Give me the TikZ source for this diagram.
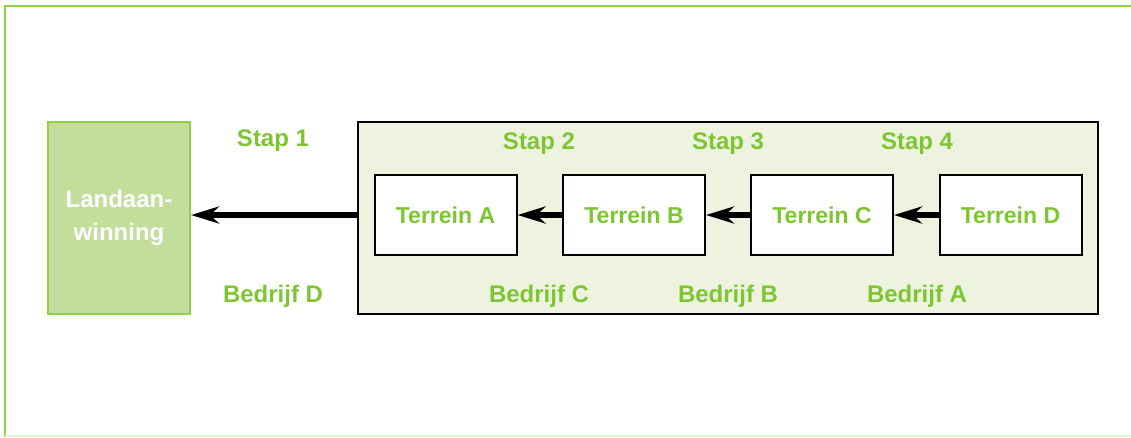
\documentclass[tikz,border=0pt]{standalone}
\usepackage{fontspec}
\setmainfont{Liberation Sans}
\usetikzlibrary{arrows.meta}
\definecolor{gtext}{HTML}{7DC632}
\definecolor{gframe}{HTML}{8ED04A}
\definecolor{gfill}{HTML}{C2DE9A}
\definecolor{gpale}{HTML}{EEF3E0}
\definecolor{gfaint}{HTML}{E4F2D4}
\tikzset{
  lbl/.style={text=gtext, font=\fontsize{24}{28}\selectfont\bfseries, anchor=base, inner sep=0pt},
  terr/.style={draw=black, line width=2pt, fill=white, minimum width=142pt, minimum height=80pt, inner sep=0pt, text=gtext, font=\fontsize{23}{27}\selectfont\bfseries},
  arr/.style={line width=6pt, -{Stealth[length=28pt,width=17pt,inset=9pt]}},
}
\begin{document}
\begin{tikzpicture}[x=1pt,y=-1pt]
\useasboundingbox (0,0) rectangle (1131,437);
% outer frame
\draw[gframe, line width=1.5pt] (5,437) -- (5,6) -- (1135,6);
\draw[gfaint, line width=1.5pt] (5,436) -- (1135,436);
% landaanwinning
\node[draw=gframe, line width=2pt, fill=gfill, minimum width=142pt, minimum height=192pt, inner sep=0pt,
      text=white, font=\fontsize{24}{33}\selectfont\bfseries, align=center] (land) at (119,218) {Landaan-\\winning};
% container
\node[draw=black, line width=2pt, fill=gpale, minimum width=740pt, minimum height=192pt, inner sep=0pt] (cont) at (728,218) {};
% terrain boxes
\node[terr] (A) at (445.5,215) {Terrein A};
\node[terr] (B) at (634,215) {Terrein B};
\node[terr] (C) at (822,215) {Terrein C};
\node[terr] (D) at (1010.5,215) {Terrein D};
% arrows
\draw[arr] (A.west -| cont.west) -- (A.west -| land.east);
\draw[arr] (B.west) -- (A.east);
\draw[arr] (C.west) -- (B.east);
\draw[arr] (D.west) -- (C.east);
% labels
\node[lbl] (s1) at (273,146.5) {Stap 1};
\node[lbl] (s2) at (539,149.3) {Stap 2};
\node[lbl] (s3) at (728,149.3) {Stap 3};
\node[lbl] (s4) at (917,149.3) {Stap 4};
\node[lbl] (bd) at (273,302.7) {Bedrijf D};
\node[lbl] (bc) at (539,302.7) {Bedrijf C};
\node[lbl] (bb) at (728,302.7) {Bedrijf B};
\node[lbl] (ba) at (917,302.7) {Bedrijf A};
\end{tikzpicture}
\end{document}
